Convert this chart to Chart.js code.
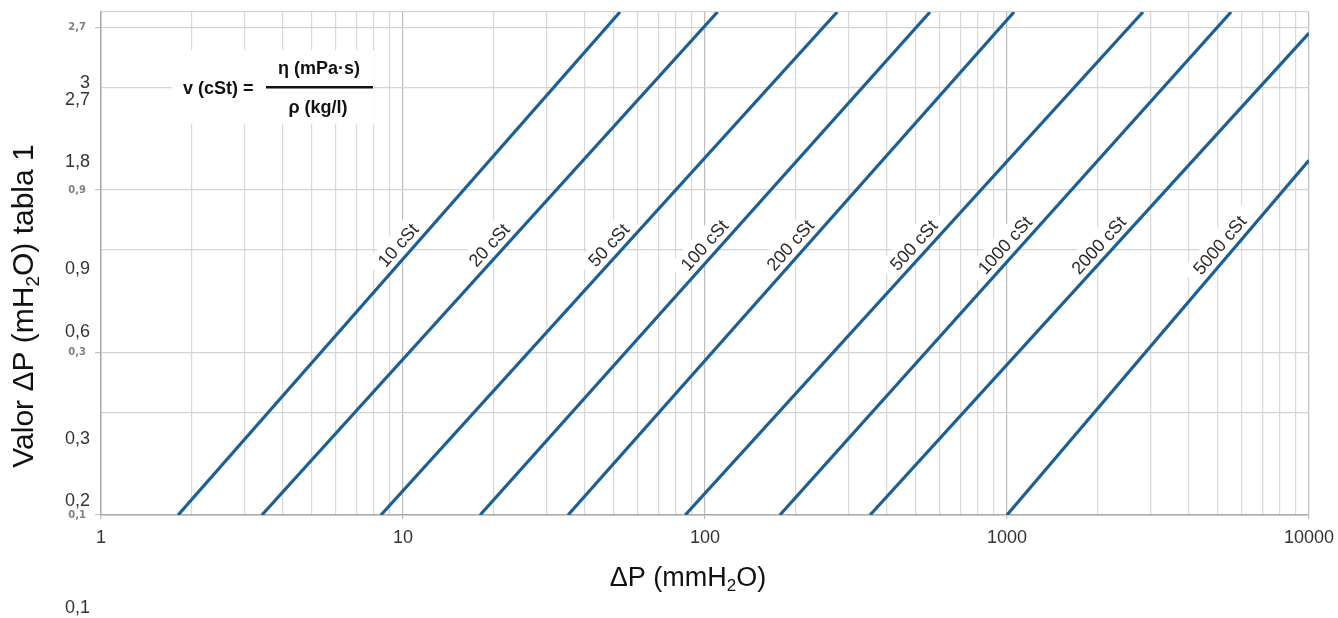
<!DOCTYPE html>
<html>
<head>
<meta charset="utf-8">
<script src="https://cdn.jsdelivr.net/npm/chart.js@4.4.1/dist/chart.umd.min.js"></script>
<style>
  html, body { margin: 0; padding: 0; background: #ffffff; }
  #wrap { width: 1338px; height: 618px; position: relative; }
</style>
</head>
<body>
<div id="wrap"><canvas id="c" width="1338" height="618"></canvas></div>
<script>
// ---------- data ----------
const seriesLabels = ['10 cSt', '20 cSt', '50 cSt', '100 cSt', '200 cSt', '500 cSt', '1000 cSt', '2000 cSt', '5000 cSt'];
const startDP  = [1.8, 3.41, 8.45, 18, 35.2, 86, 177, 352, 1000];
const startVal = [0.1, 0.1, 0.1, 0.1, 0.1, 0.1, 0.1, 0.1, 0.1];
const endDP    = [52.3, 110, 274, 556, 1055, 2820, 5520, 10000, 10000];
const endVal   = [3, 3, 3, 3, 3, 3, 3, 2.6, 1.1];

const xTickValues = [1,2,3,4,5,6,7,8,9,10,20,30,40,50,60,70,80,90,100,200,300,400,500,600,700,800,900,1000,2000,3000,4000,5000,6000,7000,8000,9000,10000];
const xTickLabels = ['1', '10', '100', '1000', '10000'];
const yTickValues = [0.1, 0.2, 0.3, 0.6, 0.9, 1.8, 2.7, 3];
const ySmallLabels = { '0.1': '0,1', '0.3': '0,3', '0.9': '0,9', '2.7': '2,7' };
const yBigLabelValues = [3, 2.7, 1.8, 0.9, 0.6, 0.3, 0.2, 0.1];
const yBigLabelTexts  = ['3', '2,7', '1,8', '0,9', '0,6', '0,3', '0,2', '0,1'];

const xTitleParts = [{ t: 'ΔP (mmH' }, { t: '2', sub: true }, { t: 'O)' }];
const yTitleParts = [{ t: 'Valor ΔP (mH' }, { t: '2', sub: true }, { t: 'O) tabla 1' }];
const formulaLeft = 'v (cSt) =';
const formulaNum = 'η (mPa·s)';
const formulaDen = 'ρ (kg/l)';

// ---------- helpers ----------
const FONT = '"Liberation Sans", Arial, Helvetica, sans-serif';
const LINE_COLOR = '#1b5f93';

function drawParts(ctx, parts, cx, cy, size, rot) {
  ctx.save();
  ctx.translate(cx, cy);
  ctx.rotate(rot);
  const subSize = Math.round(size * 0.62);
  let total = 0;
  const widths = parts.map(p => {
    ctx.font = (p.sub ? subSize : size) + 'px ' + FONT;
    const w = ctx.measureText(p.t).width;
    total += w;
    return w;
  });
  let x = -total / 2;
  ctx.fillStyle = '#111';
  ctx.textBaseline = 'middle';
  ctx.textAlign = 'left';
  parts.forEach((p, i) => {
    ctx.font = (p.sub ? subSize : size) + 'px ' + FONT;
    ctx.fillText(p.t, x, p.sub ? size * 0.28 : 0);
    x += widths[i];
  });
  ctx.restore();
}

const overlay = {
  id: 'overlay',
  beforeDatasetsDraw(chart) {
    const ctx = chart.ctx;
    const xs = chart.scales.x, ys = chart.scales.y;
    // formula box
    ctx.save();
    ctx.fillStyle = '#ffffff';
    ctx.fillRect(172, 50, 202, 74);
    ctx.fillStyle = '#111';
    ctx.font = 'bold 18px ' + FONT;
    ctx.textBaseline = 'middle';
    ctx.textAlign = 'left';
    ctx.fillText(formulaLeft, 183, 89);
    ctx.textAlign = 'center';
    ctx.fillText(formulaNum, 319, 69);
    ctx.fillText(formulaDen, 318, 108);
    ctx.fillRect(266, 86, 107, 2.5);
    ctx.restore();

    // line labels
    const labelY = ys.getPixelForValue(0.62);
    seriesLabels.forEach((lab, i) => {
      const x0 = xs.getPixelForValue(startDP[i]), y0 = ys.getPixelForValue(startVal[i]);
      const x1 = xs.getPixelForValue(endDP[i]),   y1 = ys.getPixelForValue(endVal[i]);
      const t = (labelY - y0) / (y1 - y0);
      const lx = x0 + t * (x1 - x0) - 17;
      const ang = Math.atan2(y1 - y0, x1 - x0);
      ctx.save();
      ctx.translate(lx, labelY);
      ctx.rotate(ang);
      ctx.font = '18px ' + FONT;
      const w = ctx.measureText(lab).width;
      ctx.fillStyle = '#ffffff';
      ctx.fillRect(-w / 2 - 9, -13, w + 18, 26);
      ctx.fillStyle = '#2a2a2a';
      ctx.textAlign = 'center';
      ctx.textBaseline = 'middle';
      ctx.fillText(lab, 0, 1);
      ctx.restore();
    });
  },
  afterDraw(chart) {
    const ctx = chart.ctx;
    const ys = chart.scales.y;
    const bottom = chart.chartArea.bottom;
    // second (offset) set of value labels
    ctx.save();
    ctx.font = '18px ' + FONT;
    ctx.fillStyle = '#333';
    ctx.textAlign = 'right';
    ctx.textBaseline = 'middle';
    yBigLabelValues.forEach((v, i) => {
      const py = (bottom + 93) - 1.043 * (bottom - ys.getPixelForValue(v));
      ctx.fillText(yBigLabelTexts[i], 90, py);
    });
    ctx.restore();
    // axis titles
    drawParts(ctx, xTitleParts, 688, 579, 27, 0);
    drawParts(ctx, yTitleParts, 25, 306, 30, -Math.PI / 2);
  }
};

const datasets = seriesLabels.map((lab, i) => ({
  label: lab,
  data: [{ x: startDP[i], y: startVal[i] }, { x: endDP[i], y: endVal[i] }],
  borderColor: LINE_COLOR,
  borderWidth: 3.2,
  pointRadius: 0,
  fill: false,
  tension: 0
}));

const isDecade = v => xTickLabels.includes(String(v));
const yLabelOf = v => ySmallLabels[String(Math.round(v * 10) / 10)] || '';

new Chart(document.getElementById('c'), {
  type: 'line',
  data: { datasets },
  options: {
    responsive: false,
    animation: false,
    layout: { padding: { left: 0, right: 29, top: 12, bottom: 0 } },
    plugins: { legend: { display: false }, tooltip: { enabled: false } },
    scales: {
      x: {
        type: 'logarithmic',
        min: 1, max: 10000,
        afterBuildTicks: s => { s.ticks = xTickValues.map(v => ({ value: v })); },
        afterFit: s => { s.height = 103; s.paddingLeft = 0; s.paddingRight = 0; },
        grid: {
          color: c => (c.tick && isDecade(c.tick.value)) ? '#bcbcbc' : '#d8d8d8',
          lineWidth: 1.2,
          tickLength: 4,
          tickColor: c => (c.tick && isDecade(c.tick.value)) ? '#bcbcbc' : 'rgba(0,0,0,0)'
        },
        border: { color: '#aaaaaa', width: 1.5 },
        ticks: {
          autoSkip: false,
          maxRotation: 0,
          padding: 8,
          color: '#333',
          font: { family: FONT, size: 18 },
          callback: v => isDecade(v) ? String(v) : ''
        }
      },
      y: {
        type: 'logarithmic',
        min: 0.1, max: 3,
        afterBuildTicks: s => { s.ticks = yTickValues.map(v => ({ value: v })); },
        afterFit: s => { s.width = 101; s.paddingTop = 0; s.paddingBottom = 0; },
        grid: {
          color: '#d4d4d4',
          lineWidth: 1.2,
          tickLength: 6,
          tickColor: c => (c.tick && yLabelOf(c.tick.value)) ? '#c4c4c4' : 'rgba(0,0,0,0)'
        },
        border: { color: '#aaaaaa', width: 1.5 },
        ticks: {
          autoSkip: false,
          padding: 9,
          color: '#808080',
          font: { family: '"DejaVu Sans", sans-serif', size: 10, weight: 'bold' },
          callback: v => yLabelOf(v)
        }
      }
    }
  },
  plugins: [overlay]
});
</script>
</body>
</html>
